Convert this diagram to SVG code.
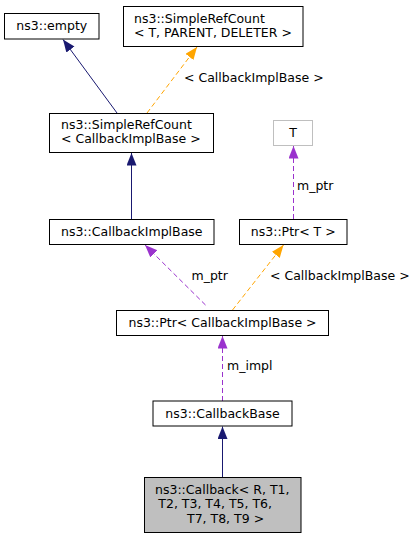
<svg xmlns="http://www.w3.org/2000/svg" width="417" height="539" viewBox="0 0 417 539">
<style>
.n rect{fill:#fff;stroke:#000;stroke-width:1}
.n text,.lbl{font-family:"DejaVu Sans",sans-serif;font-size:12.5px;fill:#000}
.c{text-anchor:middle}
.e{fill:none;stroke-width:1}
.nv{stroke:#191970}
.or{stroke:#ffa500;stroke-dasharray:5,3}
.pu{stroke:#9a32cd;stroke-dasharray:5,3}
</style>
<defs>
<marker id="aN" markerUnits="userSpaceOnUse" markerWidth="13" markerHeight="11" refX="12.5" refY="5" orient="auto"><path d="M0,0 L12.5,5 L0,10 z" fill="#191970"/></marker>
<marker id="aO" markerUnits="userSpaceOnUse" markerWidth="13" markerHeight="11" refX="12.5" refY="5" orient="auto"><path d="M0,0 L12.5,5 L0,10 z" fill="#ffa500"/></marker>
<marker id="aP" markerUnits="userSpaceOnUse" markerWidth="13" markerHeight="11" refX="12.5" refY="5" orient="auto"><path d="M0,0 L12.5,5 L0,10 z" fill="#9a32cd"/></marker>
</defs>
<rect width="417" height="539" fill="#fff"/>
<g id="edges">
<path class="e nv" d="M117,113 L63,39.5" marker-end="url(#aN)"/>
<path class="e or" d="M147,113 L197,47" marker-end="url(#aO)"/>
<text class="lbl" x="184" y="82">&lt; CallbackImplBase &gt;</text>
<path class="e nv" d="M131.5,219 L131.5,153" marker-end="url(#aN)"/>
<path class="e pu" d="M293.5,219 L293.5,146" marker-end="url(#aP)"/>
<text class="lbl" x="297" y="190">m_ptr</text>
<path class="e pu" d="M205.5,305 L145,245" marker-end="url(#aP)"/>
<text class="lbl" x="191.5" y="280">m_ptr</text>
<path class="e or" d="M232.5,310 L283.5,245" marker-end="url(#aO)"/>
<text class="lbl" x="270" y="280">&lt; CallbackImplBase &gt;</text>
<path class="e pu" d="M222.5,401 L222.5,336" marker-end="url(#aP)"/>
<text class="lbl" x="227" y="370">m_impl</text>
<path class="e nv" d="M222.5,477 L222.5,426.5" marker-end="url(#aN)"/>
</g>
<g id="n_empty" class="n"><rect x="4.5" y="13.5" width="94.5" height="25.5"/><text class="c" x="51.75" y="30">ns3::empty</text></g>
<g id="n_src_tpl" class="n"><rect x="123.5" y="6.5" width="179.5" height="40"/><text x="134" y="22.5">ns3::SimpleRefCount</text><text x="134" y="36.5">&lt; T, PARENT, DELETER &gt;</text></g>
<g id="n_src" class="n"><rect x="49.5" y="113.5" width="164" height="39"/><text x="61" y="129.3">ns3::SimpleRefCount</text><text x="61" y="143.3">&lt; CallbackImplBase &gt;</text></g>
<g id="n_T" class="n"><rect x="273.5" y="120.5" width="39" height="25" style="stroke:#bfbfbf"/><text class="c" x="293" y="137">T</text></g>
<g id="n_cib" class="n"><rect x="49.5" y="219.5" width="164.5" height="25"/><text class="c" x="131.75" y="236">ns3::CallbackImplBase</text></g>
<g id="n_ptrT" class="n"><rect x="239.5" y="219.5" width="107.5" height="25"/><text class="c" x="293.25" y="236">ns3::Ptr&lt; T &gt;</text></g>
<g id="n_ptrCIB" class="n"><rect x="116.5" y="310.5" width="212" height="25"/><text class="c" x="222.5" y="327">ns3::Ptr&lt; CallbackImplBase &gt;</text></g>
<g id="n_cb" class="n"><rect x="153" y="401" width="139" height="25"/><text class="c" x="222.5" y="417.5">ns3::CallbackBase</text></g>
<g id="n_callback" class="n"><rect x="144.5" y="477.5" width="156.5" height="55" style="fill:#bfbfbf"/><text x="155" y="494">ns3::Callback&lt; R, T1,</text><text x="158.3" y="508.3">T2, T3, T4, T5, T6,</text><text x="187" y="522.7">T7, T8, T9 &gt;</text></g>
</svg>
